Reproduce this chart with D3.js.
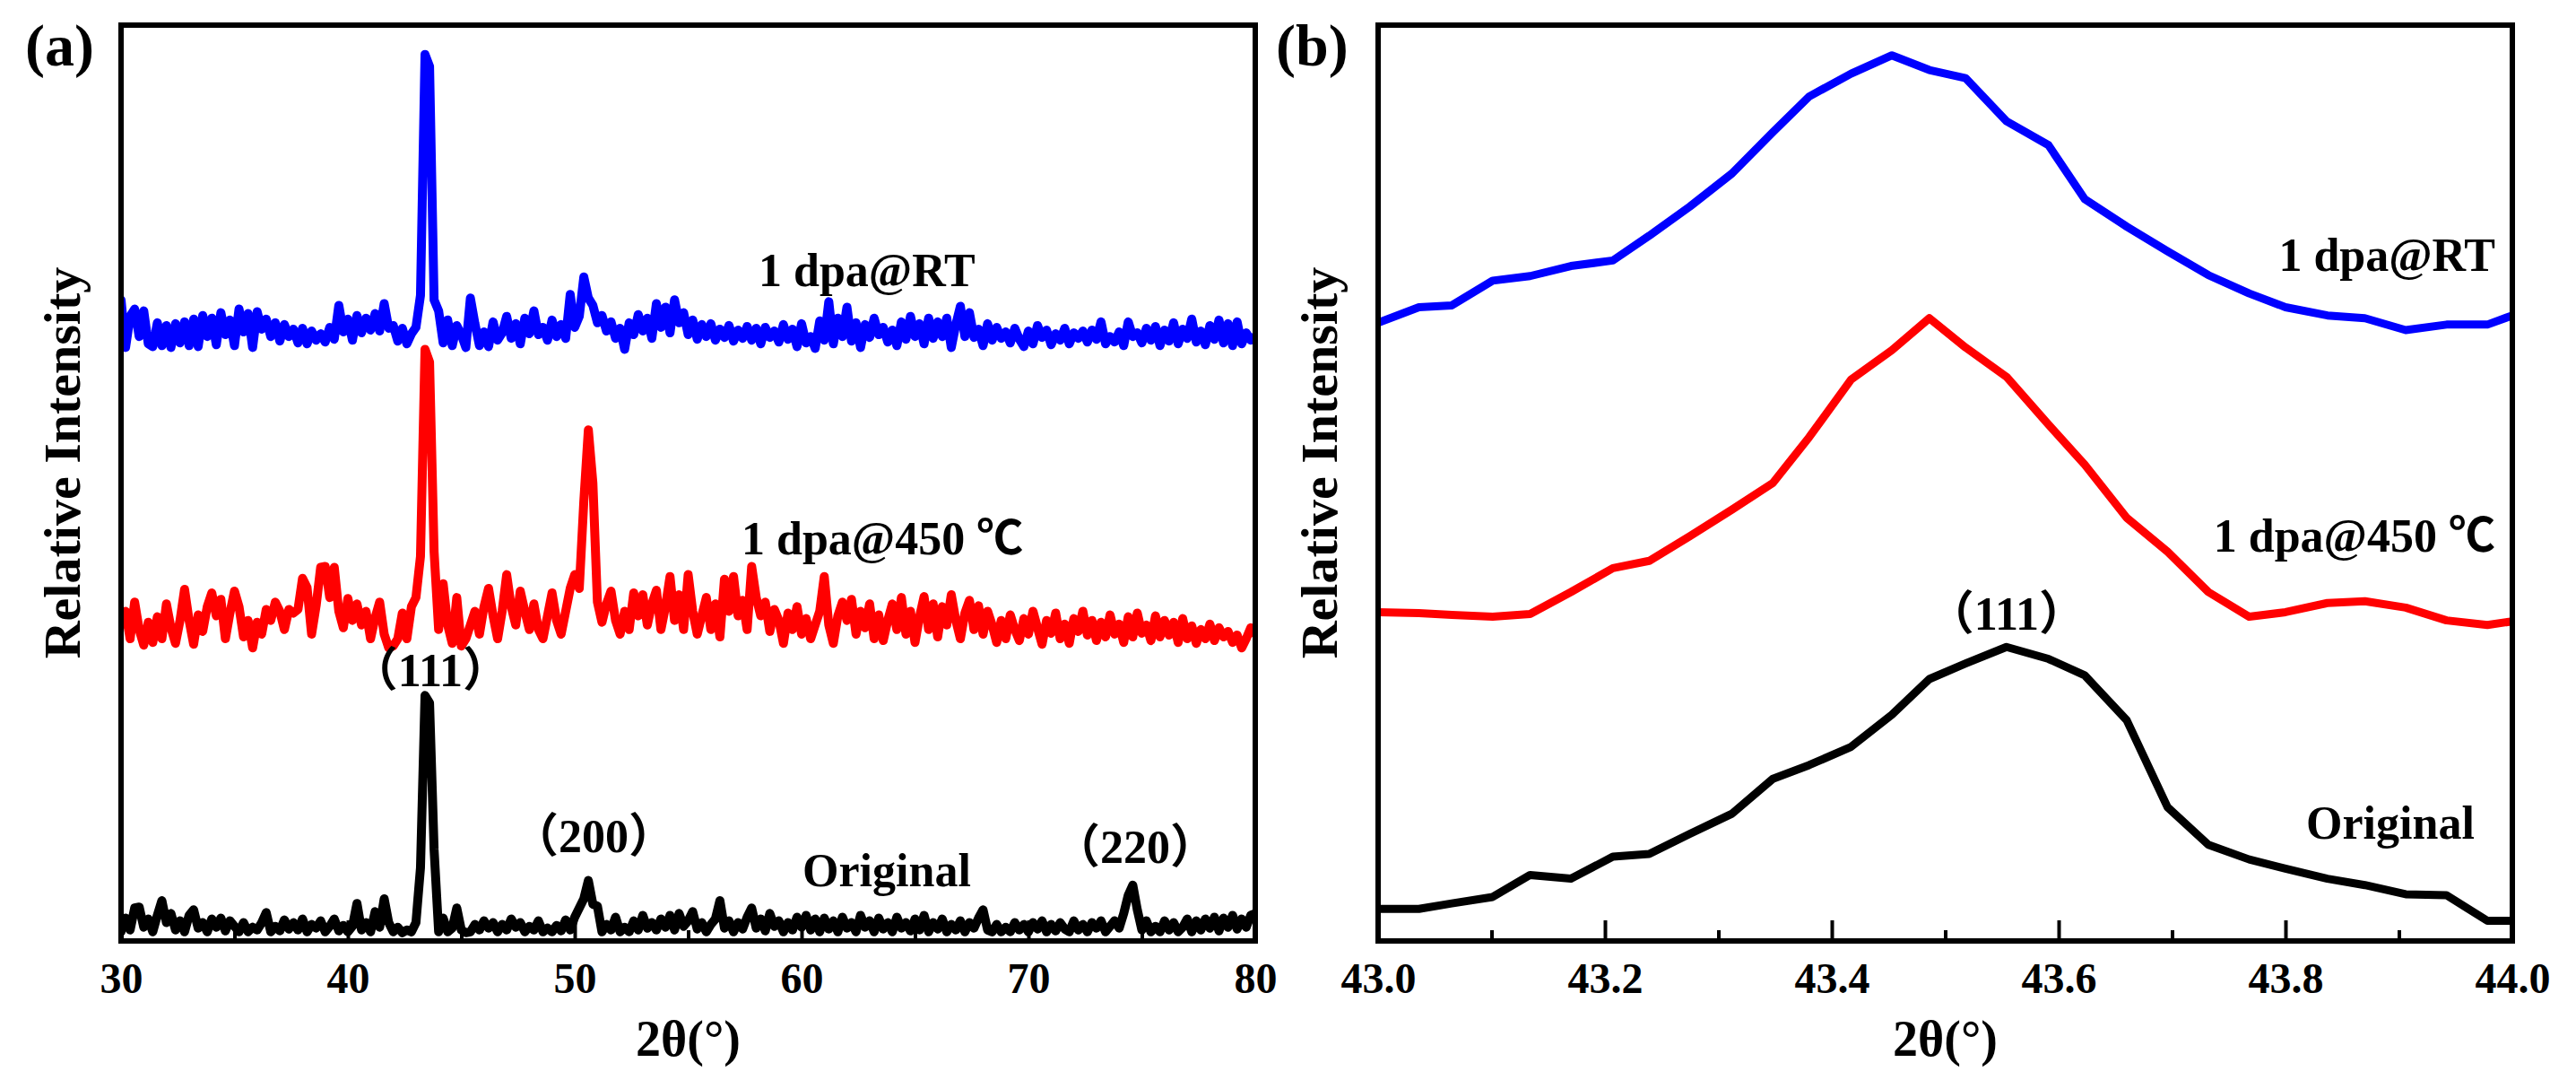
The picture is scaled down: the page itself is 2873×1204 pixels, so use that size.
<!DOCTYPE html>
<html>
<head>
<meta charset="utf-8">
<script src="https://cdn.jsdelivr.net/npm/d3@7"></script>
<style>
  html, body { margin: 0; padding: 0; background: #fff; }
  svg { display: block; }
  text { font-family: "Liberation Serif", "Times New Roman", "Noto Sans CJK SC", serif; font-weight: bold; fill: #000; }
</style>
</head>
<body>
<svg id="chart" width="2873" height="1204"></svg>
<script>
// ---------------- DATA ----------------
// Panel (a): full scan 30-80 deg, sampled every 0.2 deg
const thetaStartA = 30, thetaStepA = 0.2;
const blueA = [
70.0,64.8,68.2,69.0,66.0,68.8,65.2,64.9,67.5,65.0,
67.2,64.8,67.4,65.3,67.6,65.0,67.9,64.9,68.3,66.0,
68.0,65.1,68.6,66.2,67.8,65.0,69.0,66.5,68.5,64.8,
68.7,66.8,67.9,66.0,67.5,65.5,67.3,66.0,66.8,65.3,
66.9,65.2,66.6,65.6,66.3,65.4,67.0,65.7,69.4,66.5,
67.9,65.6,68.3,66.4,68.0,66.7,68.5,66.6,69.6,66.9,
67.2,65.5,66.9,65.2,66.3,67.0,70.5,96.8,95.5,70.0,
68.8,65.3,67.8,65.0,67.2,66.2,64.8,70.2,67.4,65.0,
66.5,64.9,67.6,65.6,66.4,68.2,65.8,67.4,65.2,68.0,
66.3,68.8,66.2,67.0,65.6,67.8,66.0,67.3,65.8,70.6,
67.0,68.2,72.5,70.2,69.4,67.5,68.3,66.6,67.6,65.8,
66.9,64.6,67.5,66.2,68.4,66.6,68.0,65.8,69.6,67.0,
69.2,66.4,70.0,67.5,68.6,66.2,67.8,65.7,67.3,66.0,
67.4,65.6,66.8,65.9,67.2,65.5,66.7,65.8,67.1,65.6,
66.9,65.2,67.0,65.9,66.6,65.4,67.3,65.7,66.8,64.9,
67.4,65.3,66.0,64.7,67.7,65.6,69.8,65.2,68.0,66.0,
69.2,65.5,67.5,64.8,67.3,65.9,68.0,66.2,67.0,65.4,
66.7,65.0,67.6,65.7,68.2,66.0,67.4,65.2,68.0,65.8,
67.6,66.0,68.0,64.8,67.3,69.3,66.0,68.6,65.9,66.8,
65.0,67.4,65.6,67.0,65.8,66.5,65.3,66.9,65.7,64.9,
66.6,65.2,67.2,65.9,66.7,65.1,66.3,65.6,66.9,65.2,
66.4,65.8,66.6,65.4,66.7,65.7,67.6,65.2,66.0,65.4,
66.5,65.0,67.6,66.0,66.4,65.3,66.9,65.6,67.1,65.0,
66.7,65.5,67.5,65.2,66.8,65.8,67.9,65.4,66.6,65.1,
67.2,65.7,67.8,65.3,67.4,65.0,67.6,65.2,66.4,65.6,
66.0
];
const redA = [
34.5,36.0,33.0,37.0,34.0,32.3,34.8,32.6,35.4,33.0,
36.8,34.2,32.5,35.0,38.4,35.0,32.4,35.6,33.8,36.5,
38.0,35.5,37.3,33.0,35.8,38.2,36.5,33.2,35.0,32.0,
34.8,33.5,36.2,35.0,37.0,36.0,34.0,36.2,35.8,36.2,
39.6,38.6,33.5,36.6,40.8,40.9,37.5,40.8,36.0,34.2,
37.4,35.0,36.8,34.5,36.0,33.0,35.3,37.0,33.5,32.0,
32.2,33.0,35.8,33.0,36.5,37.5,42.0,64.6,63.2,42.5,
34.0,39.0,34.5,32.5,37.5,32.2,33.0,34.5,36.0,33.5,
36.5,38.5,35.5,33.0,36.0,40.0,36.5,34.5,38.2,36.0,
34.0,36.8,34.0,33.0,35.5,38.0,35.0,33.5,36.0,38.5,
40.0,38.5,48.0,55.8,50.0,37.0,34.8,36.8,38.2,35.0,
33.5,36.0,34.0,38.0,35.5,37.8,34.5,36.8,38.3,34.0,
36.5,39.8,35.0,37.8,34.0,40.0,36.0,33.5,35.5,37.5,
34.0,36.8,33.2,39.5,36.0,39.8,35.5,37.2,34.0,40.9,
37.5,35.5,37.0,33.8,36.2,35.0,32.5,35.8,34.0,36.5,
33.5,35.2,33.0,34.5,36.0,39.8,34.5,32.5,35.5,37.0,
35.0,37.3,33.5,36.0,34.2,36.8,33.0,35.6,32.8,35.0,
36.8,34.0,37.5,33.5,36.0,32.6,35.4,37.6,34.0,36.8,
33.2,36.5,34.5,37.8,35.0,33.0,35.8,37.2,34.0,36.6,
33.5,36.0,34.5,32.6,35.0,33.0,35.6,34.0,32.8,35.2,
33.5,36.0,34.2,32.4,35.0,33.6,35.8,33.0,34.6,32.5,
35.2,33.8,36.0,33.4,35.0,32.8,34.8,33.2,35.6,33.5,
34.6,32.6,35.4,33.2,35.8,33.6,34.5,32.8,35.5,33.2,
35.0,33.4,34.8,32.6,35.2,33.0,34.4,32.5,34.0,33.0,
34.6,32.8,34.2,33.2,33.8,32.6,33.4,32.0,33.0,34.2,
33.5
];
const blackA = [
1.0,2.5,1.2,3.6,3.7,1.5,2.4,1.0,2.8,4.4,
2.0,3.0,1.2,2.2,1.0,2.8,3.4,1.4,2.0,1.0,
2.4,1.5,2.5,1.1,2.2,1.6,1.0,2.0,1.0,1.5,
1.2,2.0,3.1,1.0,1.6,1.1,2.3,1.3,2.0,1.2,
2.4,1.0,1.8,1.4,2.2,1.0,1.6,2.4,1.1,1.7,
1.0,1.6,4.1,1.2,2.0,1.0,3.2,1.5,4.6,2.0,
1.0,1.5,0.9,1.2,1.0,2.0,8.0,26.8,26.0,10.0,
1.0,2.5,1.0,1.4,3.6,1.2,0.9,1.0,1.8,1.2,
2.2,1.4,2.0,1.0,1.8,1.2,2.4,1.5,2.0,1.0,
1.6,1.2,2.2,1.0,1.4,1.0,1.7,1.1,2.3,1.2,
2.6,3.6,4.6,6.6,4.0,3.8,1.0,1.8,1.2,2.6,
1.0,1.5,1.0,2.2,1.2,2.8,1.4,2.0,1.2,2.4,
1.5,2.8,1.2,3.0,1.6,2.2,3.2,1.3,2.0,1.0,
1.8,2.4,4.4,1.4,2.2,1.0,2.0,1.3,2.6,3.6,
1.4,2.4,1.1,3.0,1.6,2.2,1.0,2.0,1.2,2.6,
1.5,2.8,1.2,2.4,1.0,2.5,1.3,2.2,1.0,2.6,
1.4,2.0,1.0,2.8,1.5,2.2,1.0,2.5,1.3,2.0,
1.0,2.6,1.4,2.0,1.1,2.4,1.2,2.8,1.0,2.0,
1.3,2.4,1.0,1.8,1.2,2.2,1.0,2.0,1.4,2.5,
3.4,1.2,1.0,1.8,1.0,1.5,1.0,2.0,1.2,1.8,
1.0,2.0,1.3,2.2,1.0,1.8,1.1,2.0,1.3,1.0,
2.2,1.2,1.8,1.0,2.0,1.4,2.2,1.0,1.6,2.2,
1.4,3.0,5.0,6.1,3.4,1.2,2.2,1.0,1.6,1.0,
2.2,1.2,2.0,1.0,1.5,2.4,1.0,2.2,1.2,2.4,
1.4,2.6,1.1,2.5,1.5,2.8,1.3,2.4,1.5,2.8,
3.0
];
const ticksA = [30, 40, 50, 60, 70, 80];
const minorTicksA = [35, 45, 55, 65, 75];

// Panel (b): zoom 43-44 deg
const thetaB = [43.000,43.036,43.065,43.101,43.134,43.170,43.207,43.239,43.275,43.312,
                43.348,43.380,43.417,43.453,43.486,43.518,43.554,43.591,43.623,43.660,
                43.696,43.732,43.768,43.800,43.837,43.870,43.906,43.942,43.978,44.000];
const blueB = [67.5,69.2,69.4,72.1,72.6,73.7,74.3,77.0,80.2,83.8,
               88.3,92.2,94.7,96.7,95.1,94.2,89.5,86.9,81.0,78.0,
               75.3,72.7,70.7,69.2,68.3,68.0,66.7,67.3,67.3,68.3];
const redB  = [35.9,35.8,35.6,35.4,35.7,38.1,40.7,41.5,44.2,47.1,
               50.0,55.0,61.3,64.5,68.0,64.8,61.6,56.4,52.0,46.2,
               42.5,38.1,35.4,35.9,36.9,37.1,36.4,35.0,34.5,34.9];
const blackB = [3.5,3.5,4.1,4.8,7.2,6.8,9.2,9.5,11.7,13.9,
                17.7,19.2,21.2,24.7,28.6,30.3,32.1,30.8,29.0,24.1,
                14.6,10.5,8.9,7.9,6.8,6.1,5.1,5.0,2.2,2.2];
const ticksB = [43.0, 43.2, 43.4, 43.6, 43.8, 44.0];
const minorTicksB = [43.1, 43.3, 43.5, 43.7, 43.9];

const seriesNames = ["1 dpa@RT", "1 dpa@450 \u2103", "Original"];
const seriesColors = ["#0000ff", "#ff0000", "#000000"];

// ---------------- LAYOUT ----------------
const svg = d3.select("#chart");
svg.append("rect").attr("width", 2873).attr("height", 1204).attr("fill", "#fff");

const plotTop = 28, plotBottom = 1049, panelW = 1265;
const panels = [
  { id: "a", left: 135, domain: [30, 80], ticks: ticksA, minor: minorTicksA, fmt: d3.format("d"), sw: 10,
    series: [blueA, redA, blackA].map(arr => arr.map((v, i) => [thetaStartA + i * thetaStepA, v])),
    label: { text: "(a)", x: 28 } },
  { id: "b", left: 1537, domain: [43, 44], ticks: ticksB, minor: minorTicksB, fmt: d3.format(".1f"), sw: 9,
    series: [blueB, redB, blackB].map(arr => arr.map((v, i) => [thetaB[i], v])),
    label: { text: "(b)", x: 1423 } }
];

panels.forEach(p => {
  const x = d3.scaleLinear().domain(p.domain).range([p.left, p.left + panelW]);
  const y = d3.scaleLinear().domain([0, 100]).range([plotBottom, plotTop]);
  const g = svg.append("g");

  const clipId = "clip-" + p.id;
  svg.append("clipPath").attr("id", clipId)
    .append("rect").attr("x", p.left).attr("y", plotTop).attr("width", panelW).attr("height", plotBottom - plotTop);

  const line = d3.line().x(d => x(d[0])).y(d => y(d[1]));
  g.append("g").attr("clip-path", `url(#${clipId})`)
    .selectAll("path").data(p.series).join("path")
    .attr("d", line)
    .attr("fill", "none")
    .attr("stroke", (d, i) => seriesColors[i])
    .attr("stroke-width", p.sw)
    .attr("stroke-linejoin", "round")
    .attr("stroke-linecap", "round");

  // major ticks + labels (inward)
  const ax = g.append("g").attr("transform", `translate(0,${plotBottom})`)
    .call(d3.axisBottom(x).tickValues(p.ticks).tickFormat(p.fmt).tickSizeInner(-23).tickSizeOuter(0).tickPadding(24));
  ax.select(".domain").remove();
  ax.attr("font-family", null).attr("font-size", null);
  ax.selectAll(".tick line").attr("stroke", "#000").attr("stroke-width", 4);
  ax.selectAll(".tick text").attr("font-size", 48).attr("fill", "#000");
  // minor ticks
  const mx = g.append("g").attr("transform", `translate(0,${plotBottom})`)
    .call(d3.axisBottom(x).tickValues(p.minor).tickFormat("").tickSizeInner(-12).tickSizeOuter(0));
  mx.select(".domain").remove();
  mx.selectAll(".tick line").attr("stroke", "#000").attr("stroke-width", 4);

  // frame
  g.append("rect").attr("x", p.left).attr("y", plotTop).attr("width", panelW).attr("height", plotBottom - plotTop)
    .attr("fill", "none").attr("stroke", "#000").attr("stroke-width", 6);

  // axis titles
  g.append("text").attr("x", p.left + panelW / 2).attr("y", 1177).attr("text-anchor", "middle")
    .attr("font-size", 56).text("2\u03b8(\u00b0)");
  g.append("text").attr("transform", `translate(${p.left - 46},516) rotate(-90)`).attr("text-anchor", "middle")
    .attr("font-size", 58).text("Relative Intensity");

  // panel label
  g.append("text").attr("x", p.label.x).attr("y", 73).attr("font-size", 66).text(p.label.text);
});

// annotations
const annA = [
  { t: seriesNames[0], x: 846, y: 319, a: "start" },
  { t: seriesNames[1], x: 827, y: 618, a: "start" },
  { t: "\uff08111\uff09", x: 480, y: 765, a: "middle" },
  { t: "\uff08200\uff09", x: 662, y: 950, a: "middle" },
  { t: seriesNames[2], x: 989, y: 988, a: "middle" },
  { t: "\uff08220\uff09", x: 1266, y: 962, a: "middle" },
  { t: seriesNames[0], x: 2783, y: 302, a: "end" },
  { t: seriesNames[1], x: 2783, y: 615, a: "end" },
  { t: "\uff08111\uff09", x: 2238, y: 702, a: "middle" },
  { t: seriesNames[2], x: 2666, y: 935, a: "middle" }
];
svg.append("g").selectAll("text").data(annA).join("text")
  .attr("x", d => d.x).attr("y", d => d.y).attr("text-anchor", d => d.a)
  .attr("font-size", 52).text(d => d.t);
</script>
</body>
</html>
